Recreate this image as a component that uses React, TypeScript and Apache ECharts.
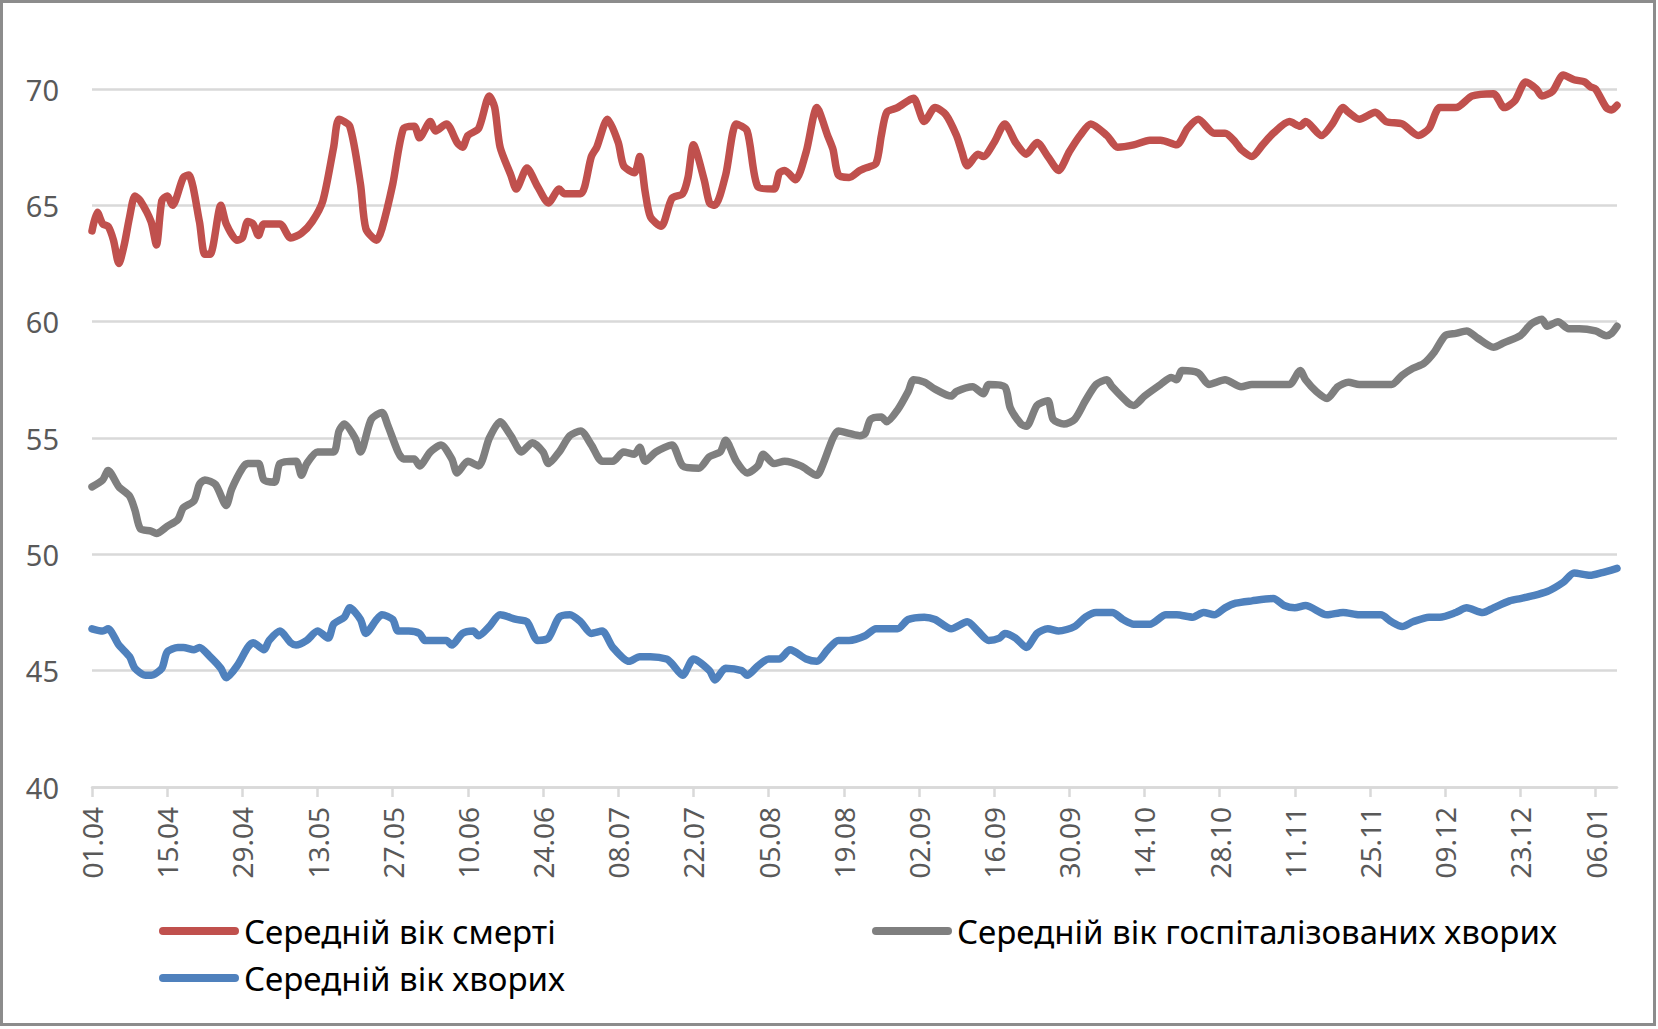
import { useEffect, useRef } from 'react';
import * as echarts from 'echarts';

// day index 0 = 01.04, one label every 14 days
const xLabels = [
  '01.04', '15.04', '29.04', '13.05', '27.05', '10.06', '24.06', '08.07', '22.07', '05.08', '19.08',
  '02.09', '16.09', '30.09', '14.10', '28.10', '11.11', '25.11', '09.12', '23.12', '06.01',
];
const labelDays = xLabels.map((_, i) => i * 14);
const LAST_DAY = 284;

const yTicks = [40, 45, 50, 55, 60, 65, 70];

const seriesNames = [
  'Середній вік смерті',
  'Середній вік госпіталізованих хворих',
  'Середній вік хворих',
];

// [day, age]
const deathAge: [number, number][] = [
  [0, 63.9], [1, 64.7], [2, 64.2], [3, 64.1], [4, 63.5], [5, 62.5], [6, 63.3], [7, 64.5], [8, 65.4], [9, 65.2],
  [11, 64.3], [12, 63.3], [13, 65.2], [14, 65.4], [15, 65.0], [17, 66.2], [18, 66.3], [20, 64.3], [21, 62.9], [22, 62.9],
  [24, 65.0], [25, 64.2], [27, 63.5], [28, 63.6], [29, 64.3], [30, 64.2], [31, 63.7], [32, 64.2], [35, 64.2], [37, 63.6],
  [39, 63.8], [41, 64.3], [43, 65.2], [45, 67.5], [46, 68.7], [48, 68.4], [50, 65.9], [51, 64.0], [53, 63.5], [54, 64.0],
  [56, 65.9], [58, 68.3], [60, 68.4], [61, 67.9], [63, 68.6], [64, 68.2], [66, 68.5], [68, 67.7], [69, 67.5], [70, 68.0],
  [72, 68.3], [74, 69.7], [75, 69.2], [76, 67.5], [78, 66.3], [79, 65.7], [81, 66.6], [83, 65.8], [85, 65.1], [87, 65.7],
  [88, 65.5], [91, 65.5], [93, 67.1], [94, 67.5], [96, 68.7], [98, 67.7], [99, 66.7], [101, 66.4], [102, 67.1], [103, 65.6],
  [104, 64.5], [106, 64.1], [108, 65.3], [110, 65.5], [111, 66.2], [112, 67.6], [114, 66.1], [115, 65.1], [116, 65.0], [118, 66.3],
  [120, 68.5], [122, 68.2], [124, 65.8], [127, 65.7], [128, 66.4], [129, 66.5], [131, 66.1], [133, 67.3], [135, 69.2], [137, 68.0],
  [138, 67.4], [139, 66.3], [141, 66.2], [143, 66.5], [144, 66.6], [146, 66.8], [147, 68.0], [148, 69.0], [150, 69.2], [152, 69.5],
  [153, 69.6], [155, 68.6], [157, 69.2], [159, 68.9], [161, 68.0], [162, 67.3], [163, 66.7], [165, 67.2], [166, 67.1], [168, 67.7],
  [170, 68.5], [172, 67.7], [174, 67.2], [176, 67.7], [178, 67.1], [180, 66.5], [182, 67.3], [184, 68.0], [186, 68.5], [189, 68.0],
  [191, 67.5], [194, 67.6], [197, 67.8], [199, 67.8], [202, 67.6], [204, 68.3], [206, 68.7], [209, 68.1], [211, 68.1], [213, 67.7],
  [214, 67.4], [216, 67.1], [218, 67.6], [220, 68.1], [223, 68.6], [225, 68.4], [226, 68.6], [229, 68.0], [231, 68.5], [233, 69.2],
  [234, 69.0], [236, 68.7], [239, 69.0], [241, 68.6], [244, 68.5], [247, 68.0], [249, 68.3], [251, 69.2], [254, 69.2], [257, 69.7],
  [261, 69.8], [263, 69.2], [265, 69.5], [267, 70.3], [269, 70.0], [270, 69.7], [272, 69.9], [274, 70.6], [276, 70.4], [278, 70.3],
  [279, 70.1], [280, 70.0], [282, 69.2], [283, 69.1], [284, 69.3],
];

const hospitalAge: [number, number][] = [
  [0, 52.9], [2, 53.2], [3, 53.6], [5, 52.9], [7, 52.5], [8, 51.9], [9, 51.1], [11, 51.0], [12, 50.9], [14, 51.2],
  [16, 51.5], [17, 52.0], [19, 52.3], [20, 53.0], [21, 53.2], [23, 53.0], [25, 52.1], [26, 52.8], [28, 53.7], [29, 53.9],
  [31, 53.9], [32, 53.2], [34, 53.1], [35, 53.9], [38, 54.0], [39, 53.4], [40, 53.9], [42, 54.4], [45, 54.4], [46, 55.3],
  [47, 55.6], [49, 55.0], [50, 54.4], [52, 55.8], [54, 56.1], [55, 55.6], [57, 54.4], [58, 54.1], [60, 54.1], [61, 53.8],
  [63, 54.4], [65, 54.7], [67, 54.1], [68, 53.5], [70, 54.0], [72, 53.8], [74, 55.0], [76, 55.7], [78, 55.1], [80, 54.4],
  [82, 54.8], [84, 54.4], [85, 53.9], [87, 54.4], [89, 55.1], [91, 55.3], [93, 54.7], [95, 54.0], [97, 54.0], [99, 54.4],
  [101, 54.3], [102, 54.6], [103, 54.0], [105, 54.4], [108, 54.7], [110, 53.8], [113, 53.7], [115, 54.2], [117, 54.4], [118, 54.9],
  [120, 54.0], [122, 53.5], [124, 53.8], [125, 54.3], [127, 53.9], [129, 54.0], [132, 53.8], [135, 53.4], [136, 53.8], [138, 55.0],
  [139, 55.3], [141, 55.2], [143, 55.1], [144, 55.2], [145, 55.8], [147, 55.9], [148, 55.7], [150, 56.2], [152, 57.0], [153, 57.5],
  [155, 57.4], [157, 57.1], [160, 56.8], [161, 57.0], [164, 57.2], [166, 56.9], [167, 57.3], [170, 57.2], [171, 56.3], [173, 55.6],
  [174, 55.5], [176, 56.4], [178, 56.6], [179, 55.8], [181, 55.6], [183, 55.8], [185, 56.6], [187, 57.3], [189, 57.5], [190, 57.2],
  [193, 56.5], [194, 56.4], [196, 56.8], [199, 57.3], [201, 57.6], [202, 57.5], [203, 57.9], [206, 57.8], [208, 57.3], [211, 57.5],
  [214, 57.2], [216, 57.3], [219, 57.3], [220, 57.3], [223, 57.3], [225, 57.9], [226, 57.5], [228, 57.0], [230, 56.7], [232, 57.2],
  [234, 57.4], [236, 57.3], [239, 57.3], [242, 57.3], [244, 57.7], [246, 58.0], [248, 58.2], [250, 58.7], [252, 59.4], [254, 59.5],
  [256, 59.6], [258, 59.3], [261, 58.9], [263, 59.1], [266, 59.4], [268, 59.9], [270, 60.1], [271, 59.8], [273, 60.0], [275, 59.7],
  [277, 59.7], [280, 59.6], [282, 59.4], [283, 59.5], [284, 59.8],
];

const patientAge: [number, number][] = [
  [0, 46.8], [2, 46.7], [3, 46.8], [5, 46.1], [7, 45.6], [8, 45.1], [10, 44.8], [11, 44.8], [13, 45.1], [14, 45.8],
  [16, 46.0], [17, 46.0], [19, 45.9], [20, 46.0], [22, 45.6], [24, 45.1], [25, 44.7], [27, 45.2], [29, 46.0], [30, 46.2],
  [32, 45.9], [33, 46.3], [35, 46.7], [37, 46.2], [38, 46.1], [40, 46.3], [42, 46.7], [44, 46.4], [45, 47.0], [47, 47.3],
  [48, 47.7], [50, 47.2], [51, 46.6], [53, 47.2], [54, 47.4], [56, 47.2], [57, 46.7], [59, 46.7], [61, 46.6], [62, 46.3],
  [64, 46.3], [66, 46.3], [67, 46.1], [69, 46.6], [71, 46.7], [72, 46.5], [74, 46.9], [76, 47.4], [79, 47.2], [81, 47.1],
  [83, 46.3], [85, 46.4], [87, 47.3], [89, 47.4], [91, 47.1], [93, 46.6], [95, 46.7], [97, 46.0], [100, 45.4], [102, 45.6],
  [104, 45.6], [107, 45.5], [108, 45.3], [110, 44.8], [112, 45.5], [115, 45.0], [116, 44.6], [118, 45.1], [121, 45.0], [122, 44.8],
  [124, 45.2], [126, 45.5], [128, 45.5], [130, 45.9], [133, 45.5], [135, 45.4], [137, 45.9], [139, 46.3], [141, 46.3], [144, 46.5],
  [146, 46.8], [150, 46.8], [152, 47.2], [155, 47.3], [157, 47.2], [160, 46.8], [163, 47.1], [165, 46.7], [167, 46.3], [169, 46.4],
  [170, 46.6], [172, 46.4], [174, 46.0], [176, 46.6], [178, 46.8], [180, 46.7], [183, 46.9], [185, 47.3], [187, 47.5], [190, 47.5],
  [192, 47.2], [194, 47.0], [197, 47.0], [200, 47.4], [202, 47.4], [205, 47.3], [207, 47.5], [209, 47.4], [211, 47.7], [213, 47.9],
  [216, 48.0], [220, 48.1], [222, 47.8], [224, 47.7], [226, 47.8], [230, 47.4], [233, 47.5], [236, 47.4], [240, 47.4], [242, 47.1],
  [244, 46.9], [246, 47.1], [249, 47.3], [251, 47.3], [254, 47.5], [256, 47.7], [259, 47.5], [261, 47.7], [264, 48.0], [266, 48.1],
  [268, 48.2], [271, 48.4], [274, 48.8], [276, 49.2], [279, 49.1], [281, 49.2], [284, 49.4],
];

const COLORS = ['#C0504D', '#7F7F7F', '#4F81BD'];
const FONT = "'Noto Sans', 'DejaVu Sans', sans-serif";
const PILL = 'path://M4,0L76,0A4,4,0,0,1,76,8L4,8A4,4,0,0,1,4,0Z';

function legendAt(name: string, left: number, top: number) {
  return {
    data: [name],
    left,
    top,
    padding: 0,
    icon: PILL,
    itemWidth: 80,
    itemHeight: 8,
    selectedMode: false,
    textStyle: { fontFamily: FONT, fontSize: 33, color: '#000000', lineHeight: 34 },
  };
}

export default function App() {
  const ref = useRef<HTMLDivElement>(null);

  useEffect(() => {
    document.body.style.margin = '0';
    if (!ref.current) return;
    const chart = echarts.init(ref.current, undefined, { renderer: 'svg' });
    const data = [deathAge, hospitalAge, patientAge];

    chart.setOption({
      animation: false,
      backgroundColor: '#ffffff',
      grid: { left: 92, right: 41, top: 89, bottom: 242, containLabel: false },
      legend: [
        legendAt(seriesNames[0], 159, 914),
        legendAt(seriesNames[1], 872, 914),
        legendAt(seriesNames[2], 159, 961),
      ],
      xAxis: {
        type: 'value',
        min: 0,
        max: LAST_DAY,
        interval: 14,
        axisLine: { show: true, onZero: false, lineStyle: { color: '#D9D9D9', width: 2.5 } },
        axisTick: {
          show: true,
          length: 10,
          customValues: labelDays,
          lineStyle: { color: '#D9D9D9', width: 2.5 },
        },
        axisLabel: {
          rotate: 90,
          margin: 20,
          customValues: labelDays,
          fontFamily: FONT,
          fontSize: 28,
          color: '#595959',
          formatter: (v: number) => (v % 14 === 0 ? xLabels[v / 14] ?? '' : ''),
        },
        splitLine: { show: false },
      },
      yAxis: {
        type: 'value',
        min: 40,
        max: 70,
        interval: 5,
        axisLine: { show: false },
        axisTick: { show: false },
        axisLabel: {
          margin: 33,
          fontFamily: FONT,
          fontSize: 29,
          color: '#595959',
          formatter: (v: number) => (yTicks.includes(v) ? String(v) : ''),
        },
        splitLine: { lineStyle: { color: '#D9D9D9', width: 2.5 } },
      },
      series: data.map((d, i) => ({
        name: seriesNames[i],
        type: 'line',
        data: d,
        clip: false,
        smooth: 0.25,
        showSymbol: false,
        symbol: 'none',
        color: COLORS[i],
        itemStyle: { color: COLORS[i] },
        lineStyle: { color: COLORS[i], width: 7.5, cap: 'round', join: 'round' },
      })),
    });

    return () => chart.dispose();
  }, []);

  return (
    <div style={{ position: 'relative', width: 1658, height: 1029, background: '#fff' }}>
      <div ref={ref} style={{ position: 'absolute', left: 0, top: 0, width: 1658, height: 1029 }} />
      <div
        style={{
          position: 'absolute',
          left: 0,
          top: 0,
          width: 1656,
          height: 1026,
          boxSizing: 'border-box',
          border: '3px solid #8C8C8C',
          pointerEvents: 'none',
        }}
      />
    </div>
  );
}
